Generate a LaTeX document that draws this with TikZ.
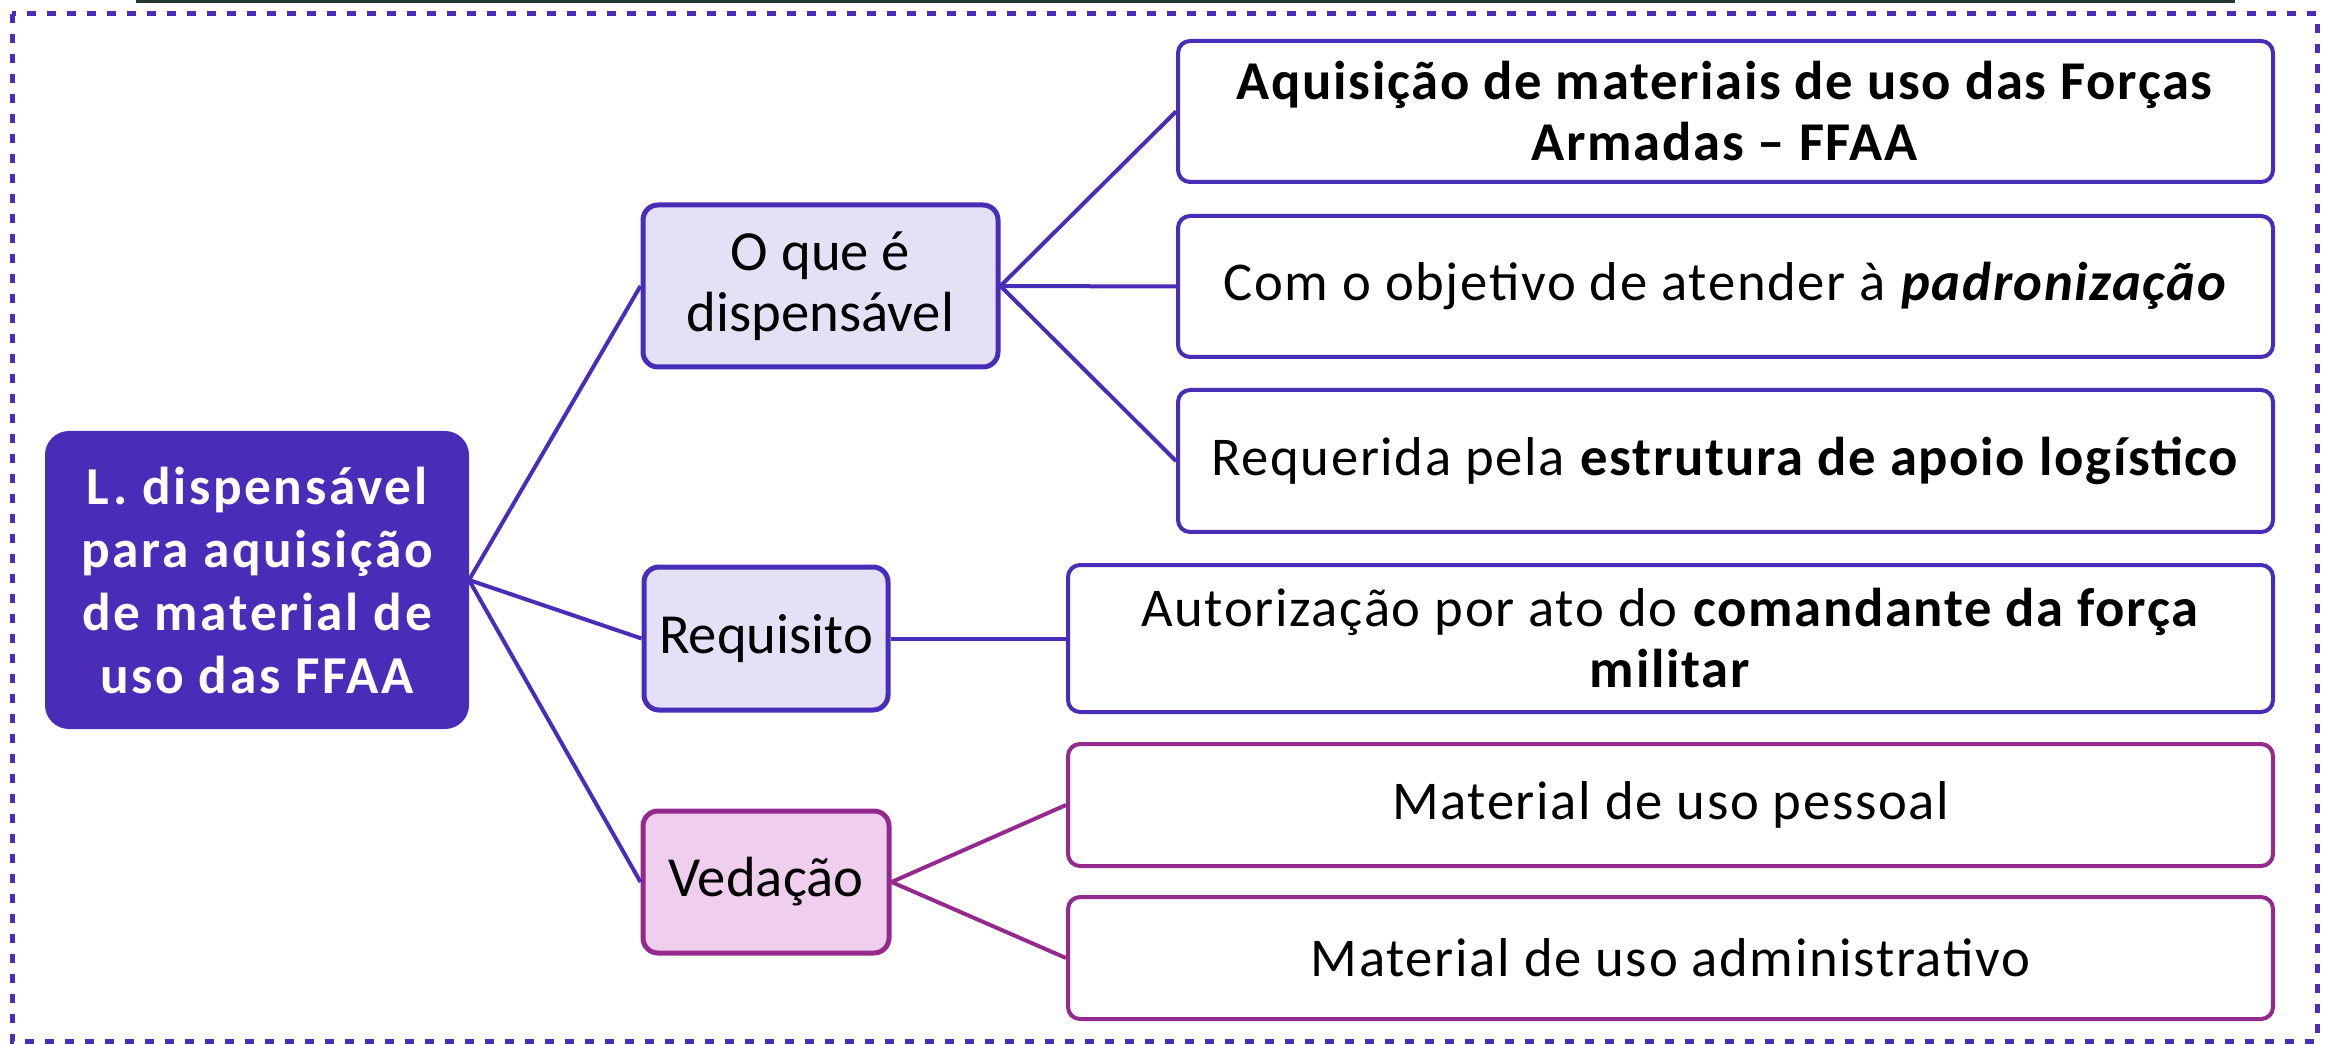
\documentclass[tikz,border=0pt]{standalone}
\usepackage{fontspec}
\setmainfont{Carlito}
\definecolor{dpurple}{RGB}{73,44,183}
\definecolor{lpurple}{RGB}{228,224,246}
\definecolor{mag}{RGB}{148,42,142}
\definecolor{lmag}{RGB}{240,207,238}
\definecolor{topbar}{RGB}{37,56,56}
\begin{document}
\begin{tikzpicture}[x=0.3pt,y=-0.3pt,
  rootbox/.style={draw=dpurple,fill=dpurple,line width=1.2pt,rounded corners=6.6pt,
    text=white,align=center,inner sep=0pt,
    font=\fontsize{16pt}{18.9pt}\selectfont\addfontfeatures{LetterSpace=5}\bfseries},
  midbox/.style={draw=dpurple,fill=lpurple,line width=1.5pt,rounded corners=4.5pt,
    align=center,inner sep=0pt},
  vedbox/.style={draw=mag,fill=lmag,line width=1.5pt,rounded corners=4.5pt,
    align=center,inner sep=0pt,font=\fontsize{17pt}{19pt}\selectfont},
  leafbox/.style={draw=dpurple,fill=white,line width=1.2pt,rounded corners=3.6pt,
    align=center,inner sep=0pt,
    font=\fontsize{16.4pt}{18.3pt}\selectfont\addfontfeatures{LetterSpace=3}},
  leafmag/.style={leafbox,draw=mag},
  conn/.style={draw=dpurple,line width=1.2pt},
  connmag/.style={draw=mag,line width=1.2pt}
]
\useasboundingbox (0,0) rectangle (2331,1044);
\fill[topbar] (136,0) rectangle (2235,3);
\draw[dpurple,line width=1.5pt,dash pattern=on 2.7pt off 3.3pt] (12,14) rectangle (2317,1041);

\node[rootbox,minimum width=126pt,minimum height=88.2pt] (root) at (257,580)
  {L. dispensável\\para aquisição\\de material de\\uso das FFAA};

\node[midbox,minimum width=106.5pt,minimum height=48.6pt,
  font=\fontsize{17pt}{18.3pt}\selectfont] (q) at (820.5,286) {O que é\\dispensável};
\node[midbox,minimum width=73.2pt,minimum height=42.9pt,
  font=\fontsize{17pt}{19pt}\selectfont] (req) at (766,638.5) {Requisito};
\node[vedbox,minimum width=73.8pt,minimum height=42.6pt] (ved) at (766,882) {Vedação};

\node[leafbox,minimum width=328.5pt,minimum height=42.3pt] (a1) at (1725.5,111.5)
  {\textbf{Aquisição de materiais de uso das Forças}\\\textbf{Armadas – FFAA}};
\node[leafbox,minimum width=328.5pt,minimum height=42.3pt] (a2) at (1725.5,286.5)
  {Com o objetivo de atender à \textbf{\textit{padronização}}};
\node[leafbox,minimum width=328.5pt,minimum height=42.6pt] (a3) at (1725.5,461)
  {Requerida pela \textbf{estrutura de apoio logístico}};

\node[leafbox,minimum width=361.5pt,minimum height=44.1pt] (b1) at (1670.5,638.5)
  {Autorização por ato do \textbf{comandante da força}\\\textbf{militar}};

\node[leafmag,minimum width=361.5pt,minimum height=36.6pt] (c1) at (1670.5,805)
  {Material de uso pessoal};
\node[leafmag,minimum width=361.5pt,minimum height=36.6pt] (c2) at (1670.5,958)
  {Material de uso administrativo};

\draw[conn] (root.east) -- (q.west);
\draw[conn] (root.east) -- (req.west);
\draw[conn] (root.east) -- (ved.west);
\draw[conn] (q.east) -- (a1.west);
\draw[conn] (q.east) -- (a2.west);
\draw[conn] (q.east) -- (a3.west);
\draw[conn] (req.east) -- (b1.west);
\draw[connmag] (ved.east) -- (c1.west);
\draw[connmag] (ved.east) -- (c2.west);
\end{tikzpicture}
\end{document}
